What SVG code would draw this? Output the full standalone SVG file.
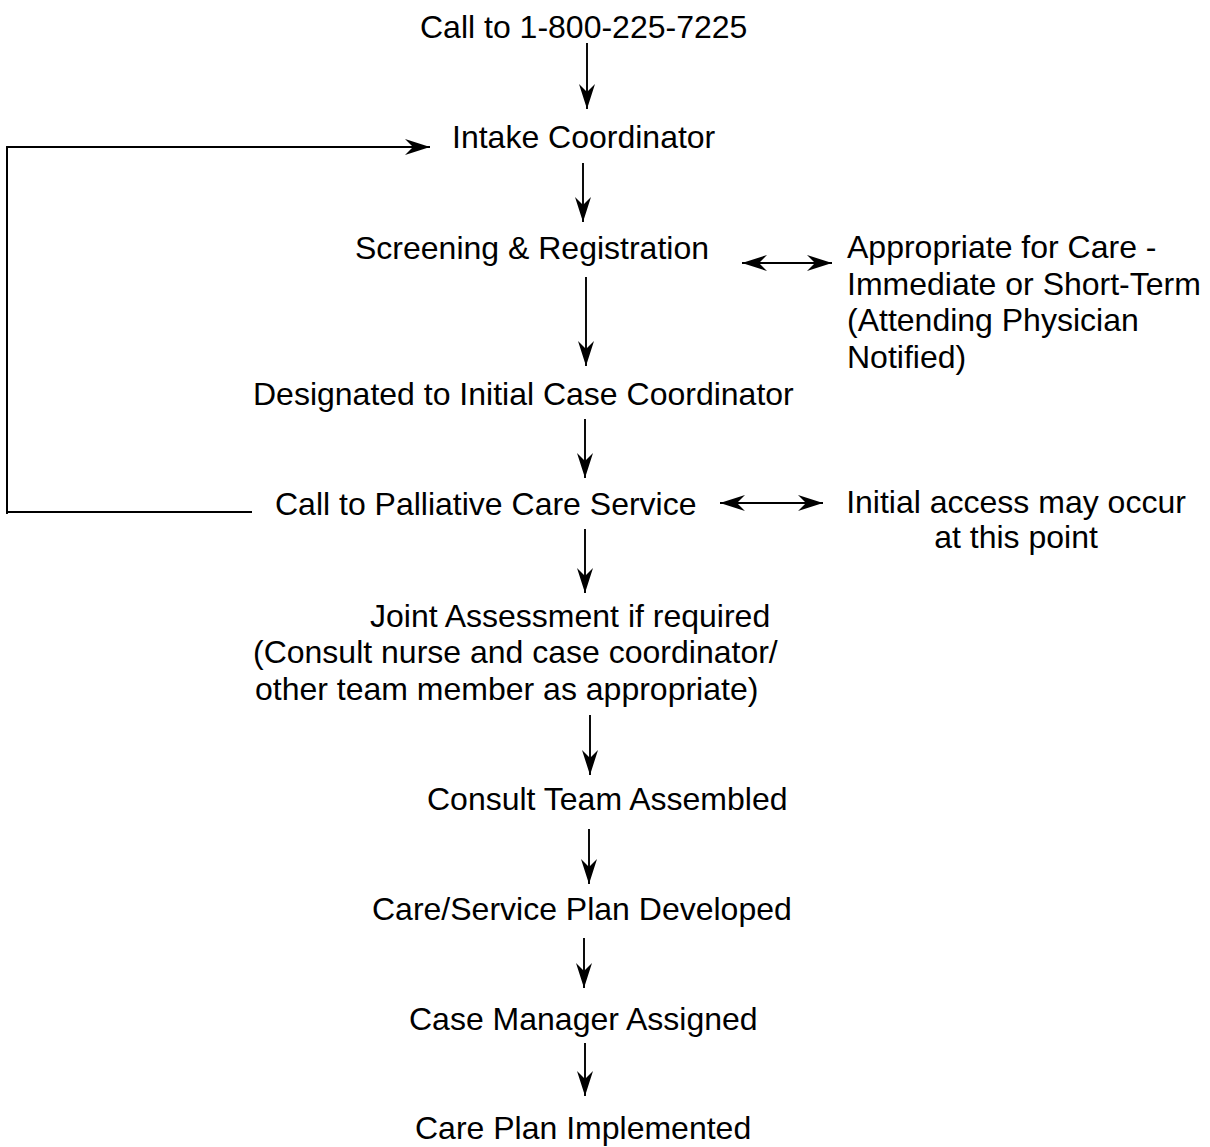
<svg xmlns="http://www.w3.org/2000/svg" width="1210" height="1147" viewBox="0 0 1210 1147">
<style>
text{font-family:"Liberation Sans",Arial,sans-serif;font-size:32px;fill:#000}
.c{stroke:#000;stroke-width:1.9;fill:none}
.e{marker-end:url(#ah)}
.b{marker-start:url(#ahs);marker-end:url(#ah)}
</style>
<defs>
<marker id="ah" markerUnits="userSpaceOnUse" markerWidth="30" markerHeight="20" viewBox="-27 -10 30 20" refX="0" refY="0" orient="auto">
<path d="M0,0 L-25,-8 L-17,0 L-25,8 Z" fill="#000"/>
</marker>
<marker id="ahs" markerUnits="userSpaceOnUse" markerWidth="30" markerHeight="20" viewBox="-27 -10 30 20" refX="0" refY="0" orient="auto-start-reverse">
<path d="M0,0 L-25,-8 L-17,0 L-25,8 Z" fill="#000"/>
</marker>
</defs>
<g id="connectors">
<line class="c e" x1="587" y1="43" x2="587" y2="109"/>
<line class="c e" x1="583" y1="163" x2="583" y2="222"/>
<line class="c e" x1="586" y1="277" x2="586" y2="366"/>
<line class="c e" x1="585" y1="419" x2="585" y2="478"/>
<line class="c e" x1="585" y1="529" x2="585" y2="593"/>
<line class="c e" x1="590" y1="715" x2="590" y2="775"/>
<line class="c e" x1="589" y1="829" x2="589" y2="884"/>
<line class="c e" x1="584" y1="938" x2="584" y2="988"/>
<line class="c e" x1="585" y1="1043" x2="585" y2="1096"/>
<polyline class="c" points="7,514 7,147"/>
<polyline class="c e" points="252,512 7,512 7,147 430,147"/>
<line class="c b" x1="742" y1="263" x2="832" y2="263"/>
<line class="c b" x1="720" y1="503" x2="823" y2="503"/>
</g>
<g id="n1"><text x="420" y="38">Call to 1-800-225-7225</text></g>
<g id="n2"><text x="452" y="148">Intake Coordinator</text></g>
<g id="n3"><text x="355" y="259">Screening &amp; Registration</text></g>
<g id="n4"><text x="847" y="258">Appropriate for Care -</text><text x="847" y="294.5">Immediate or Short-Term</text><text x="847" y="331">(Attending Physician</text><text x="847" y="367.5">Notified)</text></g>
<g id="n5"><text x="253" y="405">Designated to Initial Case Coordinator</text></g>
<g id="n6"><text x="275" y="515">Call to Palliative Care Service</text></g>
<g id="n7"><text x="1016" y="513" text-anchor="middle">Initial access may occur</text><text x="1016" y="548" text-anchor="middle">at this point</text></g>
<g id="n8"><text x="370" y="627">Joint Assessment if required</text><text x="253" y="663">(Consult nurse and case coordinator/</text><text x="255" y="700">other team member as appropriate)</text></g>
<g id="n9"><text x="427" y="810">Consult Team Assembled</text></g>
<g id="n10"><text x="372" y="920">Care/Service Plan Developed</text></g>
<g id="n11"><text x="409" y="1030">Case Manager Assigned</text></g>
<g id="n12"><text x="415" y="1139">Care Plan Implemented</text></g>
</svg>
